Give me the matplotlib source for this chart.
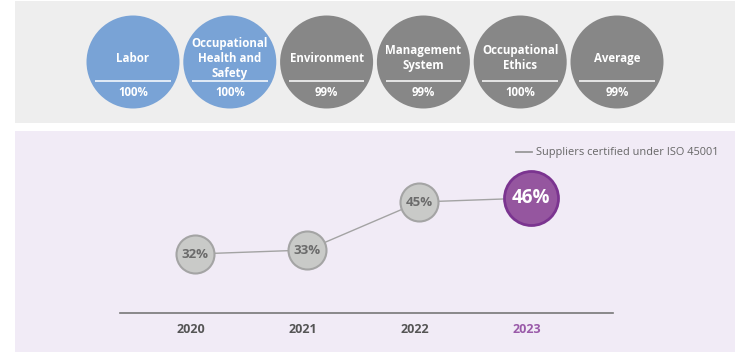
import matplotlib
matplotlib.use("Agg")
import matplotlib.pyplot as plt
from matplotlib.patches import Rectangle
from matplotlib.lines import Line2D
import matplotlib.transforms as mtransforms

# ---- data ----
categories = ["Labor", "Occupational\nHealth and\nSafety", "Environment",
              "Management\nSystem", "Occupational\nEthics", "Average"]
rates = [100, 100, 99, 99, 100, 99]
years = ["2020", "2021", "2022", "2023"]
iso_pct = [32, 33, 45, 46]
legend_label = "Suppliers certified under ISO 45001"

plt.rcParams['font.family'] = ['Open Sans', 'DejaVu Sans']

W, H = 750, 354
fig = plt.figure(figsize=(W / 100, H / 100), dpi=100)
fig.patch.set_facecolor("white")

def px_rect(x0, y0, x1, y1, color):
    fig.patches.append(Rectangle((x0 / W, 1 - y1 / H), (x1 - x0) / W, (y1 - y0) / H,
                                 transform=fig.transFigure, facecolor=color,
                                 edgecolor="none", zorder=-5))

px_rect(15, 1, 735, 123, "#eeeeee")
px_rect(15, 131, 735, 352, "#f1ebf6")

# ---- top panel: circles ----
axt = fig.add_axes([15 / W, 1 - 123 / H, 720 / W, 122 / H])
axt.set_axis_off()
axt.patch.set_alpha(0)
n = len(categories)
axt.set_xlim(-1.219, n - 1 + 1.219)
axt.set_ylim(0, 1)
xs = list(range(n))
cols = ["#79a3d6" if i < 2 else "#878787" for i in xs]
r_px = 46.5
s_top = (2 * r_px * 0.72) ** 2
axt.scatter(xs, [0.5] * n, s=s_top, c=cols, edgecolors="none", zorder=2, clip_on=False)
tr = axt.get_xaxis_transform()
for i, (cat, val) in enumerate(zip(categories, rates)):
    axt.text(i, 0.53, cat, transform=tr, ha="center", va="center", color="white",
             fontsize=8.3, fontweight="bold", linespacing=1.2, zorder=3)
    axt.plot([i - 0.39, i + 0.39], [0.344, 0.344], transform=tr, color="white",
             lw=1.1, zorder=3, solid_capstyle="butt")
    axt.text(i, 0.246, f"{val}%", transform=tr, ha="center", va="center",
             color="white", fontsize=8.3, fontweight="bold", zorder=3)

# ---- bottom panel: line chart ----
ax = fig.add_axes([120 / W, 41 / H, 493 / W, (313 - 131) / H])
ax.patch.set_alpha(0)
xi = list(range(len(years)))
ax.set_xlim(-0.67, 3.73)
ax.set_ylim(17.25, 62.75)
for sp in ["top", "left", "right"]:
    ax.spines[sp].set_visible(False)
ax.spines["bottom"].set_color("#777777")
ax.spines["bottom"].set_linewidth(1.2)
ax.set_yticks([])
ax.set_xticks(xi)
ax.set_xticklabels(years, fontsize=9, fontweight="bold")
ax.tick_params(axis="x", length=0, pad=7.5)
for k, lab in enumerate(ax.get_xticklabels()):
    lab.set_color("#9a5aa9" if k == len(years) - 1 else "#555555")
    lab.set_transform(lab.get_transform() +
                      mtransforms.ScaledTranslation(-4.5 / 100, 0, fig.dpi_scale_trans))

ax.plot(xi, iso_pct, color="#a3a3a3", lw=1.0, zorder=1, label=legend_label)
gray_s = (2 * 19 * 0.72) ** 2
big_s = (2 * 27 * 0.72) ** 2
last = len(years) - 1
ax.scatter(xi[:last], iso_pct[:last], s=gray_s, c="#c9cac8", edgecolors="#a4a4a4",
           linewidths=1.5, zorder=2, clip_on=False)
ax.scatter([xi[last]], [iso_pct[last]], s=big_s, c="#95569f", edgecolors="#7b3490",
           linewidths=2.0, zorder=2, clip_on=False)
for k, (x, v) in enumerate(zip(xi, iso_pct)):
    if k == last:
        ax.text(x, v, f"{v}%", ha="center", va="center", color="white",
                fontsize=13.5, fontweight="bold", zorder=3)
    else:
        ax.text(x, v, f"{v}%", ha="center", va="center", color="#6b6b6b",
                fontsize=9.5, fontweight="bold", zorder=3)

handle = Line2D([], [], color="#999999", lw=1.3)
fig.legend([handle], [legend_label], loc="center left",
           bbox_to_anchor=(516 / W, 1 - 153 / H), bbox_transform=fig.transFigure,
           frameon=False, fontsize=7.9, handlelength=1.5, handletextpad=0.35,
           borderpad=0, borderaxespad=0, labelcolor="#666666")

fig.savefig("out.png", dpi=100)
